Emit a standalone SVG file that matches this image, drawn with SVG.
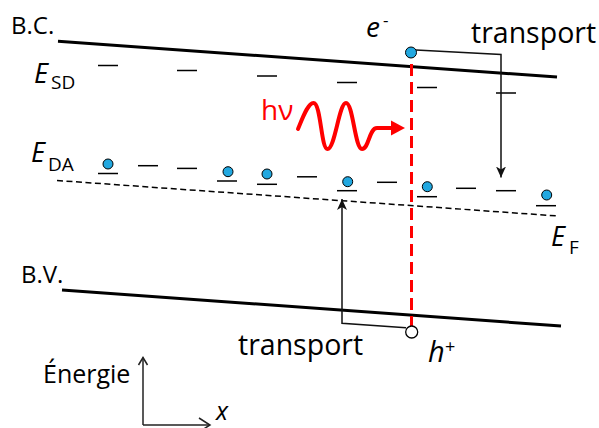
<svg xmlns="http://www.w3.org/2000/svg" width="599" height="428" viewBox="0 0 599 428">
<style>
text{font-family:"Open Sans","Liberation Sans",sans-serif;fill:#000}
.it{font-style:italic}
.band{stroke:#000;stroke-width:3;fill:none}
.lvl{stroke:#000;stroke-width:1.5}
.dot{fill:#22a8e0;stroke:#000;stroke-width:1}
.tr{stroke:#111;stroke-width:1.5;fill:none}
.ax{stroke:#222;stroke-width:1.5;fill:none}
.sub{font-size:19px}
.ee{font-size:27px}
</style>
<defs>
<marker id="ah" viewBox="0 0 11 10" refX="11" refY="5" markerWidth="11" markerHeight="10" markerUnits="userSpaceOnUse" orient="auto">
<path d="M0,0 L11,5 L0,10 L3,5 z" fill="#111"/>
</marker>
</defs>
<rect width="599" height="428" fill="#fff"/>

<g id="bands">
<line class="band" x1="58" y1="41.3" x2="557" y2="77"/>
<line class="band" x1="62" y1="290" x2="561" y2="326"/>
<line x1="57" y1="180.5" x2="558" y2="216" stroke="#000" stroke-width="1.5" stroke-dasharray="6 3.5"/>
</g>

<g id="esd-levels">
<line class="lvl" x1="98" y1="65.5" x2="118" y2="65.5"/>
<line class="lvl" x1="177" y1="70.5" x2="197" y2="70.5"/>
<line class="lvl" x1="257" y1="76" x2="277" y2="76"/>
<line class="lvl" x1="337" y1="82.5" x2="357" y2="82.5"/>
<line class="lvl" x1="417" y1="87.5" x2="437" y2="87.5"/>
<line class="lvl" x1="496" y1="93" x2="516" y2="93"/>
</g>

<g id="eda-levels">
<line class="lvl" x1="98" y1="173.5" x2="118" y2="173.5"/>
<line class="lvl" x1="138" y1="165.7" x2="158" y2="165.7"/>
<line class="lvl" x1="177" y1="168.4" x2="197" y2="168.4"/>
<line class="lvl" x1="217" y1="181" x2="237" y2="181"/>
<line class="lvl" x1="257" y1="184.3" x2="277" y2="184.3"/>
<line class="lvl" x1="297" y1="176.8" x2="317" y2="176.8"/>
<line class="lvl" x1="337" y1="190.7" x2="357" y2="190.7"/>
<line class="lvl" x1="377" y1="182.3" x2="397" y2="182.3"/>
<line class="lvl" x1="417" y1="196.7" x2="437" y2="196.7"/>
<line class="lvl" x1="456" y1="188.3" x2="476" y2="188.3"/>
<line class="lvl" x1="496" y1="190.7" x2="516" y2="190.7"/>
<line class="lvl" x1="536" y1="205.7" x2="556" y2="205.7"/>
<circle class="dot" cx="108" cy="164" r="5"/>
<circle class="dot" cx="228" cy="171.7" r="5"/>
<circle class="dot" cx="267" cy="174" r="5"/>
<circle class="dot" cx="347.7" cy="181.7" r="5"/>
<circle class="dot" cx="427.3" cy="186.7" r="5"/>
<circle class="dot" cx="546.7" cy="195" r="5"/>
</g>

<g id="connectors">
<line x1="411.5" y1="64" x2="411.5" y2="326" stroke="#ff0000" stroke-width="3" stroke-dasharray="12 6"/>
<path class="tr" d="M416,50 L501,54.5 L501,177.5" marker-end="url(#ah)"/>
<path class="tr" d="M406,327.7 L342,323.3 L342,199" marker-end="url(#ah)"/>
</g>

<g id="photon">
<path d="M298,129 C303,117 308,103 313.5,103 C321,103 321,149 327.5,149 C335,149 339,103 346,103 C353,103 355,149 362,149 C369,149 369,128 377,128 L393,128" stroke="#ff0000" stroke-width="4" fill="none" stroke-linecap="round"/>
<polygon points="391,120.5 405,128 391,135.5" fill="#ff0000"/>
<text x="261" y="120" font-size="28" style="fill:#ff0000">hν</text>
</g>

<g id="electron">
<circle class="dot" cx="411" cy="52.5" r="5.5"/>
<text class="it" x="366" y="37" font-size="28">e</text>
<text x="383" y="26" font-size="17">-</text>
</g>

<g id="hole">
<circle cx="411.7" cy="332" r="6" fill="#fff" stroke="#000" stroke-width="1.3"/>
<text class="it" x="428" y="361.5" font-size="29">h</text>
<text x="445" y="353" font-size="18">+</text>
</g>

<g id="labels">
<text x="11" y="33.5" font-size="24">B.C.</text>
<text x="21" y="282.7" font-size="24">B.V.</text>
<text class="it ee" x="34" y="83.3">E</text>
<text class="sub" x="51" y="89.3">SD</text>
<text class="it ee" x="31" y="162.3">E</text>
<text class="sub" x="48" y="170.7">DA</text>
<text class="it ee" x="551" y="246">E</text>
<text class="sub" x="569" y="254">F</text>
<text x="471" y="43.3" font-size="28.5">transport</text>
<text x="238" y="355" font-size="28.5">transport</text>
</g>

<g id="axes">
<path class="ax" d="M143,425 L143,357.5"/>
<path class="ax" d="M138.5,365 L143,357.5 L147.5,365"/>
<path class="ax" d="M143,425 L210,425"/>
<path class="ax" d="M199,418 L210,425 L199,432"/>
<text x="43" y="383.3" font-size="25">Énergie</text>
<text class="it" x="216" y="420" font-size="25">x</text>
</g>
</svg>
